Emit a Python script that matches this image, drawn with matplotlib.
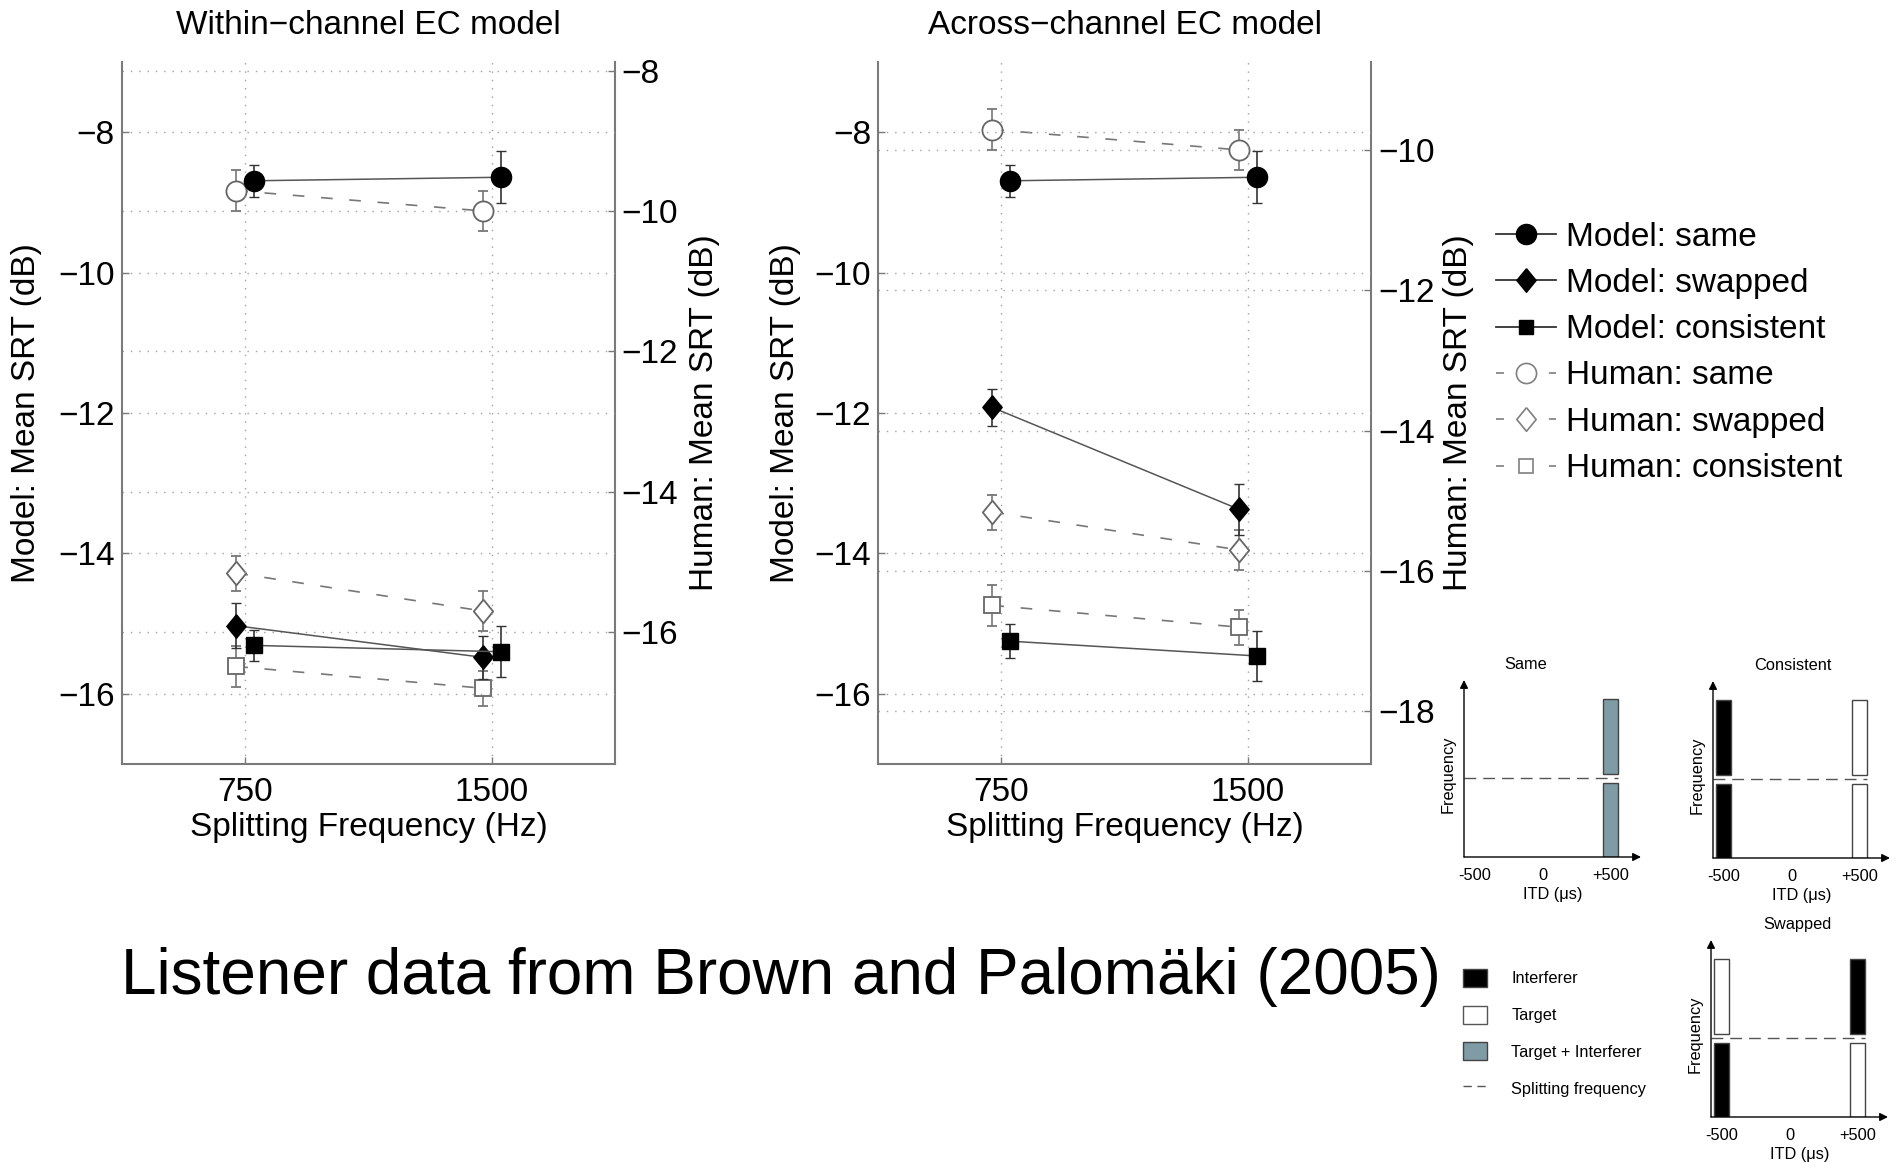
import matplotlib
matplotlib.use("Agg")
import matplotlib.pyplot as plt
from matplotlib.lines import Line2D
from matplotlib.patches import Patch

plt.rcParams['font.family'] = ['Liberation Sans', 'DejaVu Sans']
plt.rcParams['axes.unicode_minus'] = True

# ---------------- data ----------------
freqs = [750, 1500]
freq_labels = ['750', '1500']

# Model SRTs (left axis, dB)
within_same = [-8.69, -8.64]
within_same_err = [0.23, 0.37]
within_swapped = [-15.03, -15.48]
within_swapped_err = [0.32, 0.31]
within_consistent = [-15.31, -15.40]
within_consistent_err = [0.22, 0.36]

across_same = [-8.69, -8.64]
across_same_err = [0.23, 0.37]
across_swapped = [-11.92, -13.37]
across_swapped_err = [0.27, 0.36]
across_consistent = [-15.25, -15.46]
across_consistent_err = [0.24, 0.36]

# Human SRTs (right axis, dB) - Brown & Palomaki (2005)
human_same = [-9.71, -10.00]
human_same_err = [0.29, 0.28]
human_swapped = [-15.16, -15.70]
human_swapped_err = [0.25, 0.29]
human_consistent = [-16.49, -16.80]
human_consistent_err = [0.29, 0.25]

model_ticks = [-16, -14, -12, -10, -8]
within_human_ticks = [-16, -14, -12, -10, -8]
across_human_ticks = [-18, -16, -14, -12, -10]

# schematic data
itd_ticks = [-500, 0, 500]
itd_tick_labels = ['-500', '0', '+500']
split_frequency = 0.445
band_bottoms = [0.0, 0.47]
band_heights = [0.42, 0.42]
kind_colors = {'interferer': 'black', 'target': 'white', 'both': '#7f9ba5'}
same_itd = [500, 500]
same_band = [0, 1]
same_kind = ['both', 'both']
consistent_itd = [-500, -500, 500, 500]
consistent_band = [0, 1, 0, 1]
consistent_kind = ['interferer', 'interferer', 'target', 'target']
swapped_itd = [-500, -500, 500, 500]
swapped_band = [0, 1, 0, 1]
swapped_kind = ['interferer', 'target', 'target', 'interferer']

# ---------------- styles ----------------
FS = 24
SPINE = '#7a7a7a'
GRID = '#a0a0a0'
OFF = 27
DIAMOND = [(0, 1), (0.82, 0), (0, -1), (-0.82, 0), (0, 1)]
model_style = dict(color='#555555', lw=1.1, mfc='black', mec='black', ecolor='#333333',
                   elinewidth=1.2, capsize=3.5, zorder=3)
human_style = dict(color='#777777', lw=1.2, ls=(0, (7, 10)), mfc='white', mec='#666666', mew=1.3,
                   ecolor='#777777', elinewidth=1.2, capsize=3.5, zorder=3)
MS = {'o': 14.5, 'D': 17, 's': 12}

fig = plt.figure(figsize=(18.96, 11.62), dpi=100)


def panel(left, title, m_same, m_same_e, m_sw, m_sw_e, m_co, m_co_e, rlim, rticks, lab_l, lab_r):
    ax = fig.add_axes([left, 0.3425, 0.260, 0.604])
    ax2 = ax.twinx()
    ax.set_zorder(ax2.get_zorder() + 1)
    ax.patch.set_visible(False)

    xs_l = [f - OFF for f in freqs]
    xs_r = [f + OFF for f in freqs]

    ax2.errorbar(xs_l, human_same, yerr=human_same_err, marker='o', ms=MS['o'], **human_style)
    ax2.errorbar(xs_l, human_swapped, yerr=human_swapped_err, marker=DIAMOND, ms=MS['D'], **human_style)
    ax2.errorbar(xs_l, human_consistent, yerr=human_consistent_err, marker='s', ms=MS['s'], **human_style)

    ax.errorbar(xs_r, m_same, yerr=m_same_e, marker='o', ms=MS['o'], **model_style)
    ax.errorbar(xs_l, m_sw, yerr=m_sw_e, marker=DIAMOND, ms=MS['D'], **model_style)
    ax.errorbar(xs_r, m_co, yerr=m_co_e, marker='s', ms=MS['s'], **model_style)

    ax.set_xlim(375, 1875)
    ax.set_ylim(-17, -7)
    ax2.set_ylim(*rlim)
    ax.set_xticks(freqs)
    ax.set_xticklabels(freq_labels)
    ax.set_yticks(model_ticks)
    ax2.set_yticks(rticks)

    for a in (ax, ax2):
        a.tick_params(direction='in', length=5, width=1, color=SPINE, labelsize=FS, pad=5)
        a.grid(True, ls=(0, (1, 5)), color=GRID, lw=1.0)
        for s in a.spines.values():
            s.set_color(SPINE)
            s.set_linewidth(1.5)
        a.spines['top'].set_visible(False)
    ax.tick_params(axis='x', pad=9)
    ax2.grid(False, axis='x')
    ax.spines['right'].set_visible(False)
    ax2.spines['left'].set_visible(False)
    ax2.spines['bottom'].set_visible(False)

    ax.set_title(title, fontsize=FS, pad=20)
    ax.set_xlabel('Splitting Frequency (Hz)', fontsize=FS, labelpad=3.5)
    ax.set_ylabel('Model: Mean SRT (dB)', fontsize=FS, va='center')
    ax.yaxis.set_label_coords(lab_l, 0.5)
    ax2.set_ylabel('Human: Mean SRT (dB)', fontsize=FS, va='center', rotation=90)
    ax2.yaxis.set_label_coords(lab_r, 0.5)
    return ax, ax2


panel(0.0643, 'Within\u2212channel EC model', within_same, within_same_err,
      within_swapped, within_swapped_err, within_consistent, within_consistent_err,
      (-17.88, -7.88), within_human_ticks, -0.193, 1.181)
panel(0.4631, 'Across\u2212channel EC model', across_same, across_same_err,
      across_swapped, across_swapped_err, across_consistent, across_consistent_err,
      (-18.75, -8.75), across_human_ticks, -0.187, 1.178)

# main legend
HDASH = (0, (4.4, 24.9))
handles = [
    Line2D([], [], color='#333333', lw=1.3, marker='o', ms=MS['o'], mfc='black', mec='black'),
    Line2D([], [], color='#333333', lw=1.3, marker=DIAMOND, ms=MS['D'], mfc='black', mec='black'),
    Line2D([], [], color='#333333', lw=1.3, marker='s', ms=9.5, mfc='black', mec='black'),
    Line2D([], [], color='#888888', lw=1.3, ls=HDASH, marker='o', ms=MS['o'], mfc='white', mec='#808080', mew=1.2),
    Line2D([], [], color='#888888', lw=1.3, ls=HDASH, marker=DIAMOND, ms=MS['D'], mfc='white', mec='#808080', mew=1.2),
    Line2D([], [], color='#888888', lw=1.3, ls=HDASH, marker='s', ms=9.5, mfc='white', mec='#808080', mew=1.2),
]
labels = ['Model: same', 'Model: swapped', 'Model: consistent',
          'Human: same', 'Human: swapped', 'Human: consistent']
fig.legend(handles, labels, loc='upper left', bbox_to_anchor=(1496 / 1896, 1 - 221.5 / 1162),
           frameon=False, fontsize=FS, handlelength=1.8, handletextpad=0.3,
           labelspacing=0.46, borderpad=0, borderaxespad=0)

# big caption
fig.text(121 / 1896, 1 - 994 / 1162, 'Listener data from Brown and Palom\u00e4ki (2005)',
         fontsize=46, ha='left', va='baseline')

# schematics
SW = 177 / 1896
SH = 177 / 1162
SFS = 11.8


def schematic(left, bottom, title, title_x, itds, bands, kinds):
    sa = fig.add_axes([left, bottom, SW, SH])
    sa.set_xlim(-575, 720)
    sa.set_ylim(0, 1)
    bottoms = [band_bottoms[b] for b in bands]
    heights = [band_heights[b] for b in bands]
    colors = [kind_colors[k] for k in kinds]
    sa.bar(itds, heights, bottom=bottoms, width=110, color=colors, edgecolor='#444444', lw=1.0)
    sa.plot([-575, max(itds) + 55], [split_frequency, split_frequency], color='#555555', lw=1.0,
            ls=(0, (8.5, 5)))
    for s in sa.spines.values():
        s.set_visible(False)
    sa.annotate('', xy=(1, 0), xytext=(0, 0), xycoords='axes fraction',
                arrowprops=dict(arrowstyle='-|>', color='black', lw=1.0, mutation_scale=12,
                                shrinkA=0, shrinkB=0))
    sa.annotate('', xy=(0, 1), xytext=(0, 0), xycoords='axes fraction',
                arrowprops=dict(arrowstyle='-|>', color='black', lw=1.0, mutation_scale=12,
                                shrinkA=0, shrinkB=0))
    sa.set_xticks(itd_ticks)
    sa.set_xticklabels(itd_tick_labels)
    sa.set_yticks([])
    sa.tick_params(axis='x', length=0, labelsize=SFS, pad=8)
    sa.set_xlabel('ITD (\u03bcs)', fontsize=SFS, labelpad=3)
    sa.set_ylabel('Frequency', fontsize=SFS, va='center')
    sa.yaxis.set_label_coords(-0.09, 0.47)
    sa.set_title(title, fontsize=SFS, pad=8, x=title_x)
    sa.patch.set_visible(False)


schematic(1464 / 1896, 1 - 857 / 1162, 'Same', 0.35, same_itd, same_band, same_kind)
schematic(1713 / 1896, 1 - 858 / 1162, 'Consistent', 0.45, consistent_itd, consistent_band, consistent_kind)
schematic(1711 / 1896, 1 - 1117 / 1162, 'Swapped', 0.486, swapped_itd, swapped_band, swapped_kind)

# schematic legend
sch_handles = [Patch(facecolor='black', edgecolor='#444444'),
               Patch(facecolor='white', edgecolor='#555555'),
               Patch(facecolor='#7f9ba5', edgecolor='#444444'),
               Line2D([], [], color='#555555', lw=1.0, ls=(0, (6, 4)))]
sch_labels = ['Interferer', 'Target', 'Target + Interferer', 'Splitting frequency']
fig.legend(sch_handles, sch_labels, loc='upper left', bbox_to_anchor=(1463 / 1896, 1 - 969 / 1162),
           frameon=False, fontsize=SFS, handlelength=1.45, handleheight=1.3, handletextpad=1.5,
           labelspacing=1.15, borderpad=0, borderaxespad=0)

fig.savefig('out.png', dpi=100)
